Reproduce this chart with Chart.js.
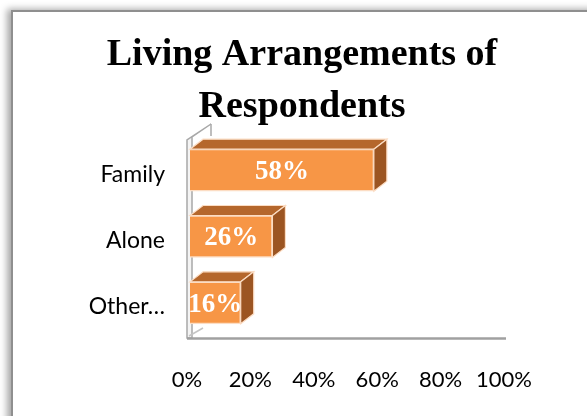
<!DOCTYPE html>
<html>
<head>
<meta charset="utf-8">
<script src="https://cdn.jsdelivr.net/npm/chart.js@4"></script>
<style>
  html, body { margin: 0; padding: 0; background: #fff; }
  body { width: 587px; height: 416px; position: relative; overflow: hidden; }
  #frame {
    position: absolute; left: 11px; top: 10px; width: 640px; height: 460px;
    border-top: 2px solid #8f8f8f; border-left: 2px solid #8f8f8f;
    box-shadow: -4px -1px 7px rgba(0,0,0,0.35);
    background: #fff;
  }
  #chart { position: absolute; left: 0; top: 0; }
</style>
</head>
<body>
<div id="frame"></div>
<canvas id="chart" width="587" height="416"></canvas>
<script>
const titleLines = ["Living Arrangements of", "Respondents"];
const categories = ["Family", "Alone", "Other…"];
const shares = [58, 26, 16];
const tickValues = [0, 20, 40, 60, 80, 100];

const FRONT = "#F79646";
const TOP = "#B5672C";
const SIDE = "#9C5522";
const EDGE = "#FCDDC4";
const DX = 13, DY = -10;

// two-line heading, centred a little right of the canvas middle
const heading = {
  id: "heading",
  afterDraw(chart) {
    const { ctx } = chart;
    ctx.save();
    ctx.fillStyle = "#000";
    ctx.font = "bold 38px 'Liberation Serif'";
    ctx.textAlign = "center";
    ctx.textBaseline = "alphabetic";
    titleLines.forEach((line, i) => ctx.fillText(line, 302, 65 + i * 51.5));
    ctx.restore();
  }
};

// wall on the left and floor line under the bars
const wallFloor = {
  id: "wallFloor",
  beforeDatasetsDraw(chart) {
    const { ctx, chartArea: a } = chart;
    const x0 = a.left - 3, x1 = a.left + 2, bottom = a.bottom + 2, top = a.top + 3;
    ctx.save();
    ctx.fillStyle = "#f4f4f4";
    ctx.strokeStyle = "#a8a8a8";
    ctx.lineWidth = 1.5;
    ctx.beginPath();
    ctx.moveTo(x0, bottom);
    ctx.lineTo(x0, top);
    ctx.lineTo(x0 + 24, top - 16);
    ctx.lineTo(x1 + 19, top - 16);
    ctx.lineTo(x1, top - 3);
    ctx.lineTo(x1, bottom);
    ctx.closePath();
    ctx.fill();
    ctx.stroke();
    ctx.beginPath();
    ctx.moveTo(x1 + 19, top - 16);
    ctx.lineTo(x1 + 19, top - 4);
    ctx.stroke();
    // slanted floor edge at the wall foot
    ctx.strokeStyle = "#c4c4c4";
    ctx.beginPath();
    ctx.moveTo(x0 + 2, bottom - 2);
    ctx.lineTo(x0 + 16, bottom - 10);
    ctx.stroke();
    ctx.strokeStyle = "#a0a0a0";
    ctx.lineWidth = 2.5;
    ctx.beginPath();
    ctx.moveTo(x0, bottom + 0.5);
    ctx.lineTo(a.right - 1, bottom + 0.5);
    ctx.stroke();
    ctx.restore();
  }
};

// top and side faces of each bar plus the value text on the front
const bars3d = {
  id: "bars3d",
  afterDatasetsDraw(chart) {
    const { ctx } = chart;
    const meta = chart.getDatasetMeta(0);
    ctx.save();
    meta.data.forEach((bar, i) => {
      const { x, y, base, height } = bar.getProps(["x", "y", "base", "height"], true);
      const t = y - height / 2, b = y + height / 2;
      ctx.lineWidth = 1.2;
      ctx.strokeStyle = EDGE;
      ctx.fillStyle = TOP;
      ctx.beginPath();
      ctx.moveTo(base, t);
      ctx.lineTo(x, t);
      ctx.lineTo(x + DX, t + DY);
      ctx.lineTo(base + DX, t + DY);
      ctx.closePath();
      ctx.fill();
      ctx.stroke();
      ctx.fillStyle = SIDE;
      ctx.beginPath();
      ctx.moveTo(x, t);
      ctx.lineTo(x + DX, t + DY);
      ctx.lineTo(x + DX, b + DY);
      ctx.lineTo(x, b);
      ctx.closePath();
      ctx.fill();
      ctx.stroke();

      ctx.fillStyle = "#fff";
      ctx.font = "bold 27px 'Liberation Serif'";
      ctx.textAlign = "center";
      ctx.textBaseline = "middle";
      ctx.fillText(shares[i] + "%", (base + x) / 2, y + 2);
    });
    ctx.restore();
  }
};

new Chart(document.getElementById("chart"), {
  type: "bar",
  data: {
    labels: categories,
    datasets: [{
      data: shares,
      backgroundColor: FRONT,
      borderColor: EDGE,
      borderWidth: 1.5,
      barThickness: 42
    }]
  },
  options: {
    indexAxis: "y",
    responsive: false,
    animation: false,
    layout: { padding: { left: 0, right: 80, top: 137, bottom: 23 } },
    plugins: {
      legend: { display: false },
      tooltip: { enabled: false },
      title: { display: false }
    },
    scales: {
      x: {
        min: 0,
        max: 100,
        afterBuildTicks: s => { s.ticks = tickValues.map(v => ({ value: v })); },
        afterFit: s => { s.height = 57; },
        grid: { display: false, drawTicks: false },
        border: { display: false },
        ticks: {
          callback: v => v + "%",
          color: "#000",
          padding: 31,
          labelOffset: -3,
          maxRotation: 0,
          font: { family: "Lato", size: 22 }
        }
      },
      y: {
        afterFit: s => { s.width = 190; },
        grid: { display: false, drawTicks: false },
        border: { display: false },
        ticks: {
          color: "#000",
          padding: 25,
          labelOffset: 4,
          font: { family: "Lato", size: 23 }
        }
      }
    }
  },
  plugins: [wallFloor, bars3d, heading]
});
</script>
</body>
</html>
